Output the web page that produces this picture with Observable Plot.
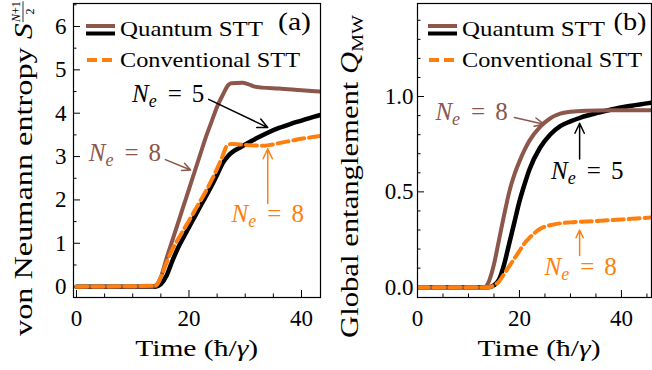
<!DOCTYPE html>
<html><head><meta charset="utf-8">
<script src="https://cdn.jsdelivr.net/npm/d3@7"></script>
<script src="https://cdn.jsdelivr.net/npm/@observablehq/plot@0.6"></script>
<style>
body{margin:0;background:#fff;}
#fig{display:flex;width:652px;height:370px;overflow:hidden;}
#fig svg, #fig svg text, #fig svg tspan{font-family:"Liberation Serif" !important;}
</style></head><body><div id="fig"></div>
<script>
const BROWN = "#8c564b", ORANGE = "#ff7f0e", BLACK = "#000000";

// ---------- Panel (a): von Neumann entropy ----------
const tA_q8 = [0, 13.5, 14.5, 15, 16, 17, 18, 19, 20, 21, 22, 23, 24, 25, 26, 27, 27.5, 29.5, 30.5, 31.5, 33, 36, 40, 43.4];
const sA_q8 = [0, 0, 0.08, 0.22, 0.65, 1.05, 1.45, 1.85, 2.25, 2.65, 3.05, 3.45, 3.8, 4.15, 4.42, 4.65, 4.69, 4.7, 4.67, 4.62, 4.59, 4.57, 4.53, 4.5];
const tA_q5 = [0, 14, 15, 16, 17, 18, 19, 20, 21, 22, 23, 24, 25, 26, 27, 28, 29, 30, 32, 34, 36, 38, 40, 42, 43.4];
const sA_q5 = [0, 0, 0.06, 0.25, 0.58, 0.88, 1.13, 1.37, 1.61, 1.85, 2.08, 2.32, 2.58, 2.85, 3.02, 3.13, 3.2, 3.28, 3.42, 3.55, 3.66, 3.75, 3.83, 3.91, 3.96];
const tA_c8 = [0, 14, 15, 16, 17, 18, 19, 20, 21, 22, 23, 24, 25, 26, 26.7, 27.5, 29, 31, 33, 34.5, 36, 38, 40, 42, 43.4];
const sA_c8 = [0, 0.02, 0.22, 0.55, 0.85, 1.08, 1.3, 1.52, 1.75, 1.97, 2.2, 2.45, 2.72, 3.02, 3.24, 3.29, 3.28, 3.26, 3.25, 3.27, 3.31, 3.36, 3.41, 3.45, 3.48];

// ---------- Panel (b): global entanglement ----------
const tB_q8 = [0, 13, 14, 15, 16, 17, 18, 19, 20, 21, 22, 24, 26, 28, 30, 33, 38, 45.9];
const qB_q8 = [0, 0, 0.03, 0.12, 0.25, 0.38, 0.5, 0.59, 0.66, 0.72, 0.77, 0.84, 0.885, 0.91, 0.92, 0.926, 0.928, 0.928];
const tB_q5 = [0, 14, 15, 16, 17, 18, 19, 20, 21, 22, 24, 26, 28, 30, 32, 35, 38, 42, 45.9];
const qB_q5 = [0, 0, 0.01, 0.04, 0.12, 0.23, 0.34, 0.45, 0.54, 0.62, 0.73, 0.8, 0.845, 0.87, 0.89, 0.912, 0.932, 0.952, 0.968];
const tB_c8 = [0, 14, 15, 16, 17, 18, 19, 20, 21, 22, 24, 26, 28, 30, 35, 40, 45.9];
const qB_c8 = [0, 0, 0.01, 0.03, 0.07, 0.11, 0.15, 0.19, 0.23, 0.26, 0.305, 0.325, 0.335, 0.34, 0.347, 0.355, 0.366];

// ---------- ticks ----------
const xMajorA = [0, 20, 40], xMinorA = [5, 10, 15, 25, 30, 35];
const yMajorA = [0, 1, 2, 3, 4, 5, 6], yMinorA = [0.5, 1.5, 2.5, 3.5, 4.5, 5.5, 6.5];
const xMajorB = [0, 20, 40], xMinorB = [5, 10, 15, 25, 30, 35, 45];
const yMajorB = [0, 0.5, 1.0], yMinorB = [0.1, 0.2, 0.3, 0.4, 0.6, 0.7, 0.8, 0.9, 1.1, 1.2, 1.3, 1.4];

// ---------- annotations (text at tx,ty; arrow from ax,ay to x,y) ----------
const annA = [
  {label: "N_e = 5", color: BLACK,  tx: 16.3, ty: 4.45, ax: 23.5, ay: 4.32, x: 34.0, y: 3.67},
  {label: "N_e = 8", color: BROWN,  tx: 8.6,  ty: 3.09, ax: 15.8, ay: 2.93, x: 20.3, y: 2.69},
  {label: "N_e = 8", color: ORANGE, tx: 34.0, ty: 1.68, ax: 34.0, ay: 1.92, x: 34.0, y: 3.18}
];
const annB = [
  {label: "N_e = 8", color: BROWN,  tx: 10.6, ty: 0.92, ax: 19.0, ay: 0.89, x: 24.8, y: 0.855},
  {label: "N_e = 5", color: BLACK,  tx: 33.3, ty: 0.61,  ax: 31.8, ay: 0.673, x: 31.8, y: 0.86},
  {label: "N_e = 8", color: ORANGE, tx: 32.0, ty: 0.105, ax: 31.8, ay: 0.166, x: 31.8, y: 0.3}
];

const zipT = (ts, vs) => ts.map((t, i) => ({t, v: vs[i]}));
const W = 326, H = 370, MT = 3, MB = 73;
const FONT = "Liberation Serif";

function panel(o) {
  const fw = W - o.ml - o.mr, fh = H - MT - MB;
  const line = (data, stroke, w, dash) => Plot.line(data, {x: "t", y: "v", stroke, strokeWidth: w, strokeDasharray: dash, curve: "monotone-x", clip: true});
  return Plot.plot({
    width: W, height: H, marginTop: MT, marginBottom: MB, marginLeft: o.ml, marginRight: o.mr,
    x: {domain: o.xd}, y: {domain: o.yd},
    style: {background: "white", color: "black", overflow: "visible", fontFamily: FONT},
    marks: [
      Plot.ruleX(o.xMaj, {x: d => d, insetTop: fh - 7, stroke: "black", strokeWidth: 1}),
      Plot.ruleX(o.xMin, {x: d => d, insetTop: fh - 3.5, stroke: "black", strokeWidth: 1}),
      Plot.ruleY(o.yMaj, {y: d => d, insetRight: fw - 7, stroke: "black", strokeWidth: 1}),
      Plot.ruleY(o.yMin, {y: d => d, insetRight: fw - 3.5, stroke: "black", strokeWidth: 1}),
      Plot.axisX(o.xMaj, {tickSize: 0, tickPadding: 12, fontSize: 23, label: null}),
      Plot.axisY(o.yMaj, {tickSize: 0, tickPadding: o.ypad, fontSize: 23, label: null, tickFormat: o.yfmt}),
      line(o.q5, BLACK, 4.5),
      line(o.q8, BROWN, 4),
      line(o.c8, ORANGE, 4, "11,5"),
      Plot.arrow(o.ann, {x1: "ax", y1: "ay", x2: "x", y2: "y", stroke: "color", strokeWidth: 1.5, headLength: 11, headAngle: 50}),
      Plot.text(o.ann, {x: "tx", y: "ty", text: "label", fill: "color", fontSize: 25}),
      Plot.frame({stroke: "black", strokeWidth: 1.2})
    ]
  });
}

const fig = d3.select("#fig");
const svgA = panel({ml: 73, mr: 6, xd: [-0.53, 43.38], yd: [-0.25, 6.53], xMaj: xMajorA, xMin: xMinorA, yMaj: yMajorA, yMin: yMinorA, ypad: 7, yfmt: d3.format("d"),
  q8: zipT(tA_q8, sA_q8), q5: zipT(tA_q5, sA_q5), c8: zipT(tA_c8, sA_c8), ann: annA});
const svgB = panel({ml: 91, mr: 1, xd: [0, 45.9], yd: [-0.054, 1.488], xMaj: xMajorB, xMin: xMinorB, yMaj: yMajorB, yMin: yMinorB, ypad: 4, yfmt: d3.format(".1f"),
  q8: zipT(tB_q8, qB_q8), q5: zipT(tB_q5, qB_q5), c8: zipT(tB_c8, qB_c8), ann: annB});
fig.node().appendChild(svgA);
fig.node().appendChild(svgB);

// math-style annotation text
function mathify(svg) {
  d3.select(svg).selectAll("text").each(function() {
    const s = this.textContent, m = s.match(/^N_e = (\d)$/);
    if (!m) return;
    const el = d3.select(this); el.text("");
    el.append("tspan").attr("font-style", "italic").text("N");
    el.append("tspan").attr("font-style", "italic").attr("font-size", "18").attr("dy", "5").text("e");
    el.append("tspan").attr("dy", "-5").attr("dx", "11").text("=");
    el.append("tspan").attr("dx", "10").text(m[1]);
  });
}
mathify(svgA); mathify(svgB);

function decorate(svg, o) {
  const s = d3.select(svg);
  // legend
  s.append("line").attr("x1", o.lx).attr("x2", o.lx + 29).attr("y1", 26).attr("y2", 26).attr("stroke", BROWN).attr("stroke-width", 4);
  s.append("line").attr("x1", o.lx).attr("x2", o.lx + 29).attr("y1", 33.5).attr("y2", 33.5).attr("stroke", BLACK).attr("stroke-width", 4);
  s.append("line").attr("x1", o.lx + 1).attr("x2", o.lx + 27).attr("y1", 60).attr("y2", 60).attr("stroke", ORANGE).attr("stroke-width", 4).attr("stroke-dasharray", "10,5");
  s.append("text").attr("x", o.lx + 34).attr("y", 36).attr("font-size", 22).attr("text-anchor", "start")
    .attr("textLength", 143).attr("lengthAdjust", "spacingAndGlyphs").text("Quantum STT");
  s.append("text").attr("x", o.lx + 34).attr("y", 67).attr("font-size", 22).attr("text-anchor", "start")
    .attr("textLength", 180).attr("lengthAdjust", "spacingAndGlyphs").text("Conventional STT");
  s.append("text").attr("x", o.px).attr("y", 30).attr("font-size", 26).attr("text-anchor", "middle")
    .attr("textLength", 33).attr("lengthAdjust", "spacingAndGlyphs").text(o.panel);
  // x label
  const xl = s.append("text").attr("x", o.xlx).attr("y", 356).attr("font-size", 23).attr("text-anchor", "middle")
    .attr("textLength", 123).attr("lengthAdjust", "spacingAndGlyphs");
  xl.append("tspan").text("Time (ħ/");
  xl.append("tspan").attr("font-style", "italic").text("γ");
  xl.append("tspan").text(")");
}
decorate(svgA, {lx: 86, px: 294.5, panel: "(a)", xlx: 196.7});
decorate(svgB, {lx: 102, px: 304, panel: "(b)", xlx: 213});

// y labels
{
  const g = d3.select(svgA).append("g").attr("transform", "translate(32,336) rotate(-90)");
  const L = 313;
  const t = g.append("text").attr("font-size", 26).attr("text-anchor", "start")
    .attr("textLength", L).attr("lengthAdjust", "spacingAndGlyphs");
  t.append("tspan").text("von Neumann entropy ");
  t.append("tspan").attr("font-style", "italic").text("S");
  const num = g.append("text").attr("x", L + 1).attr("y", -12).attr("font-size", 12).attr("text-anchor", "start");
  num.append("tspan").attr("font-style", "italic").text("N");
  num.append("tspan").text("+1");
  const nw = num.node().getComputedTextLength();
  g.append("line").attr("x1", L + 1).attr("x2", L + 1 + nw).attr("y1", -9).attr("y2", -9).attr("stroke", "black").attr("stroke-width", 0.8);
  g.append("text").attr("x", L + 1 + nw / 2).attr("y", 2).attr("font-size", 12).attr("text-anchor", "middle").text("2");
}
{
  const g = d3.select(svgB).append("g").attr("transform", "translate(32,338) rotate(-90)");
  const t = g.append("text").attr("font-size", 26).attr("text-anchor", "start")
    .attr("textLength", 323).attr("lengthAdjust", "spacingAndGlyphs");
  t.append("tspan").text("Global entanglement ");
  t.append("tspan").attr("font-style", "italic").text("Q");
  t.append("tspan").attr("font-size", 17).attr("dy", 5).text("MW");
}
d3.selectAll("#fig text").attr("font-family", FONT);
</script></body></html>
